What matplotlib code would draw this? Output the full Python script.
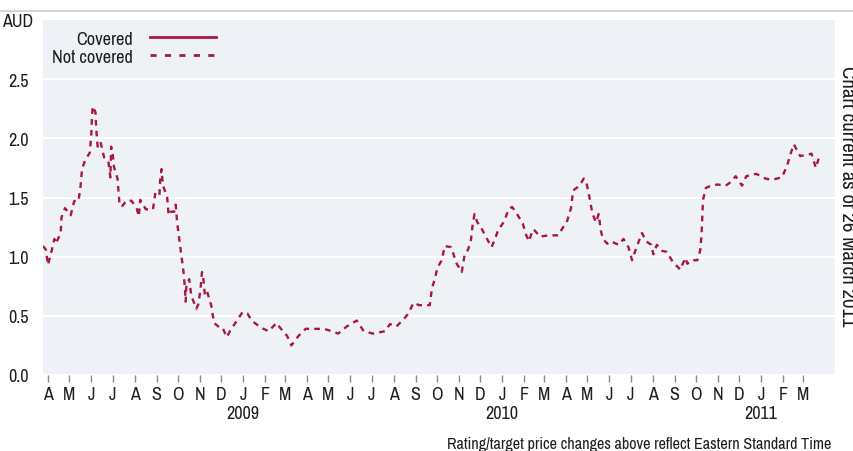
import numpy as np
import pandas as pd
import matplotlib
matplotlib.use("Agg")
import matplotlib.pyplot as plt
import matplotlib.dates as mdates
import matplotlib.transforms as mtransforms

# rating-change price series (not covered)
dates = [
    "2008-03-25", "2008-03-29", "2008-04-01", "2008-04-05", "2008-04-10", "2008-04-12",
    "2008-04-19", "2008-04-20", "2008-04-25", "2008-05-03", "2008-05-08", "2008-05-14",
    "2008-05-17", "2008-05-19", "2008-05-23", "2008-05-30", "2008-06-01", "2008-06-02",
    "2008-06-03", "2008-06-07", "2008-06-08", "2008-06-10", "2008-06-14", "2008-06-19",
    "2008-06-25", "2008-06-28", "2008-06-29", "2008-07-01", "2008-07-03", "2008-07-08",
    "2008-07-10", "2008-07-11", "2008-07-15", "2008-07-19", "2008-07-23", "2008-07-28",
    "2008-08-04", "2008-08-07", "2008-08-09", "2008-08-17", "2008-08-27", "2008-08-30",
    "2008-09-05", "2008-09-06", "2008-09-08", "2008-09-10", "2008-09-12", "2008-09-16",
    "2008-09-18", "2008-09-21", "2008-09-26", "2008-09-28", "2008-09-30", "2008-10-03",
    "2008-10-06", "2008-10-09", "2008-10-11", "2008-10-12", "2008-10-13", "2008-10-17",
    "2008-10-20", "2008-10-27", "2008-10-30", "2008-11-02", "2008-11-04", "2008-11-06",
    "2008-11-08", "2008-11-11", "2008-11-17", "2008-11-21", "2008-11-29", "2008-12-03",
    "2008-12-09", "2008-12-15", "2008-12-20", "2008-12-31", "2009-01-07", "2009-01-13",
    "2009-01-26", "2009-02-06", "2009-02-17", "2009-02-22", "2009-03-04", "2009-03-10",
    "2009-03-20", "2009-03-30", "2009-04-10", "2009-04-25", "2009-05-06", "2009-05-15",
    "2009-05-27", "2009-06-10", "2009-06-20", "2009-07-03", "2009-07-20", "2009-07-27",
    "2009-08-05", "2009-08-15", "2009-08-22", "2009-08-29", "2009-09-06", "2009-09-14",
    "2009-09-21", "2009-09-24", "2009-09-28", "2009-10-02", "2009-10-08", "2009-10-12",
    "2009-10-21", "2009-10-29", "2009-11-05", "2009-11-09", "2009-11-14", "2009-11-18",
    "2009-11-20", "2009-11-23", "2009-11-27", "2009-12-02", "2009-12-08", "2009-12-17",
    "2009-12-22", "2009-12-26", "2010-01-04", "2010-01-10", "2010-01-15", "2010-01-21",
    "2010-01-30", "2010-02-04", "2010-02-08", "2010-02-13", "2010-02-16", "2010-02-23",
    "2010-03-08", "2010-03-21", "2010-03-28", "2010-04-02", "2010-04-08", "2010-04-11",
    "2010-04-18", "2010-04-23", "2010-04-26", "2010-04-30", "2010-05-04", "2010-05-08",
    "2010-05-13", "2010-05-17", "2010-05-20", "2010-05-23", "2010-05-29", "2010-06-03",
    "2010-06-14", "2010-06-21", "2010-06-28", "2010-07-03", "2010-07-10", "2010-07-17",
    "2010-07-23", "2010-07-30", "2010-08-02", "2010-08-07", "2010-08-14", "2010-08-21",
    "2010-08-29", "2010-09-09", "2010-09-16", "2010-09-19", "2010-09-25", "2010-10-03",
    "2010-10-07", "2010-10-09", "2010-10-10", "2010-10-11", "2010-10-15", "2010-10-18",
    "2010-10-31", "2010-11-12", "2010-11-19", "2010-11-26", "2010-12-05", "2010-12-11",
    "2010-12-25", "2011-01-07", "2011-01-16", "2011-01-30", "2011-02-06", "2011-02-12",
    "2011-02-16", "2011-02-25", "2011-03-13", "2011-03-19", "2011-03-23",
]
not_covered = [
    1.09, 1.06, 0.93, 1.02, 1.15, 1.11,
    1.20, 1.33, 1.41, 1.35, 1.47, 1.47,
    1.60, 1.74, 1.81, 1.88, 2.03, 2.18,
    2.27, 2.22, 2.08, 1.93, 1.97, 1.84,
    1.81, 1.67, 1.93, 1.88, 1.76, 1.66,
    1.51, 1.43, 1.43, 1.46, 1.48, 1.47,
    1.41, 1.34, 1.48, 1.40, 1.40, 1.53,
    1.51, 1.64, 1.74, 1.60, 1.57, 1.50,
    1.35, 1.38, 1.38, 1.44, 1.29, 1.15,
    1.01, 0.87, 0.73, 0.62, 0.75, 0.81,
    0.67, 0.56, 0.60, 0.73, 0.87, 0.81,
    0.68, 0.71, 0.59, 0.44, 0.40, 0.40,
    0.32, 0.39, 0.43, 0.53, 0.52, 0.46,
    0.40, 0.37, 0.44, 0.40, 0.33, 0.25,
    0.33, 0.39, 0.39, 0.39, 0.37, 0.35,
    0.41, 0.46, 0.37, 0.35, 0.37, 0.43,
    0.41, 0.47, 0.52, 0.61, 0.59, 0.59,
    0.59, 0.73, 0.81, 0.91, 0.97, 1.09,
    1.08, 0.94, 0.87, 1.01, 1.06, 1.14,
    1.25, 1.36, 1.29, 1.25, 1.18, 1.08,
    1.15, 1.22, 1.30, 1.40, 1.42, 1.37,
    1.28, 1.18, 1.13, 1.23, 1.22, 1.17,
    1.18, 1.18, 1.25, 1.29, 1.41, 1.56,
    1.59, 1.63, 1.66, 1.62, 1.50, 1.37,
    1.29, 1.36, 1.22, 1.15, 1.11, 1.13,
    1.10, 1.15, 1.08, 0.97, 1.09, 1.20,
    1.13, 1.10, 1.02, 1.10, 1.05, 1.04,
    0.96, 0.89, 0.99, 0.94, 0.97, 0.97,
    1.05, 1.19, 1.33, 1.48, 1.58, 1.59,
    1.61, 1.60, 1.63, 1.68, 1.60, 1.68,
    1.70, 1.66, 1.65, 1.67, 1.76, 1.88,
    1.95, 1.85, 1.87, 1.75, 1.83,
]
legend_labels = ["Covered", "Not covered"]
y_ticks = [0.0, 0.5, 1.0, 1.5, 2.0, 2.5]
years = ["2009", "2010", "2011"]
month_ticks = pd.date_range("2008-04-01", "2011-03-01", freq="MS")

red = "#A8193E"
bg = "#EEF2F7"
ink = "#1e1e1e"
plt.rcParams["font.family"] = ["Archivo Narrow", "Liberation Sans", "DejaVu Sans"]

x = pd.to_datetime(dates)

fig = plt.figure(figsize=(8.54, 4.52), dpi=100)
ax = fig.add_axes([43 / 854, 76 / 452, 792 / 854, 355 / 452])
ax.set_facecolor(bg)

ax.plot(x, not_covered, color=red, lw=1.7, dashes=(2.4, 2.2))

ax.set_ylim(0, 3.0)
ax.set_xlim(pd.Timestamp("2008-03-25"), pd.Timestamp("2011-04-15"))
ax.set_yticks(y_ticks)
ax.set_yticklabels([f"{v:.1f}" for v in y_ticks])
ax.yaxis.grid(True, color="white", lw=1.6)
ax.set_axisbelow(True)
for s in ax.spines.values():
    s.set_visible(False)

ax.set_xticks(month_ticks)
ax.xaxis.set_major_formatter(
    plt.FuncFormatter(lambda v, p: mdates.num2date(v).strftime("%b")[0]))
ax.tick_params(axis="x", length=5, width=1, color="#888888", pad=3,
               labelsize=13, labelcolor=ink)
ax.tick_params(axis="y", length=0, pad=10, labelsize=13, labelcolor=ink)

# year labels under January
trans = mtransforms.blended_transform_factory(ax.transData, ax.transAxes)
for yr in years:
    ax.text(pd.Timestamp(f"{yr}-01-01"), -0.085, yr, transform=trans,
            ha="center", va="top", fontsize=13, color=ink)

# AUD unit label
fig.text(33 / 854, 1 - 22 / 452, "AUD", ha="right", va="center",
         fontsize=13, color=ink)

# legend drawn by hand: text right-aligned, line sample to the right
for i, lab in enumerate(legend_labels):
    yy = 1 - (40 + 18 * i) / 452
    fig.text(133 / 854, yy, lab, ha="right", va="center", fontsize=13.2,
             color=ink)
    ln = plt.Line2D([150 / 854, 216 / 854], [yy + 0.004, yy + 0.004],
                    transform=fig.transFigure, color=red, lw=2)
    if i == 1:
        ln.set_dashes((2.2, 3.0))
    fig.add_artist(ln)

# thin rule at top
fig.add_artist(plt.Line2D([0, 1], [1 - 12 / 452, 1 - 12 / 452],
                          transform=fig.transFigure, color="#d4d4d4", lw=1.5))

fig.text(848 / 854, 1 - 66 / 452, "Chart current as of 26 March 2011",
         rotation=270, ha="center", va="top", fontsize=15, color=ink)
fig.text(831 / 854, 1 - 445 / 452, "Rating/target price changes above reflect Eastern Standard Time",
         ha="right", va="center", fontsize=11.6, color=ink)

fig.savefig("out.png", dpi=100, facecolor="white")
